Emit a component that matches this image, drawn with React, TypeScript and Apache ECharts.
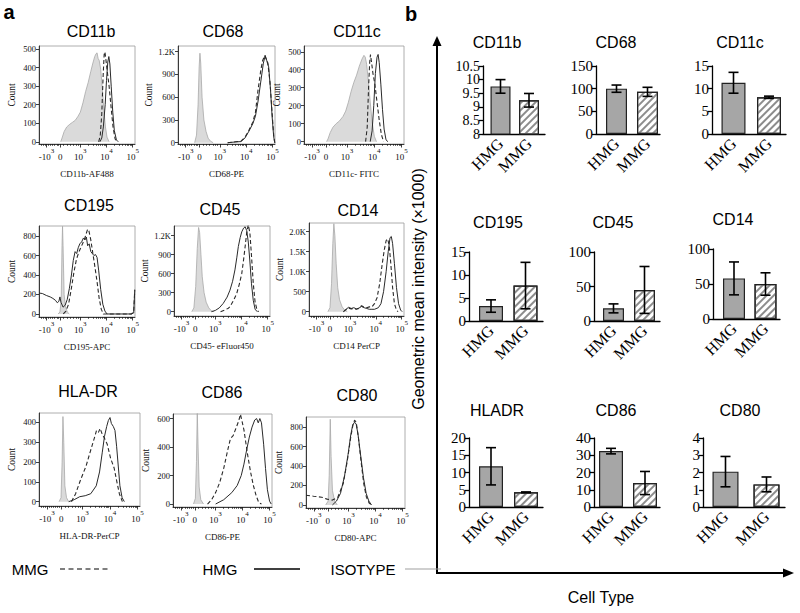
import React, { useEffect, useRef } from 'react';
import * as echarts from 'echarts';

const SERIF = '"Liberation Serif", "Times New Roman", serif';
const SANS = '"Liberation Sans", Arial, sans-serif';

// ---------------- Panel a : flow cytometry histograms ----------------
const histTitles = ['CD11b', 'CD68', 'CD11c', 'CD195', 'CD45', 'CD14', 'HLA-DR', 'CD86', 'CD80'];
const histAxisNames = ['CD11b-AF488', 'CD68-PE', 'CD11c- FITC', 'CD195-APC', 'CD45- eFluor450', 'CD14 PerCP', 'HLA-DR-PerCP', 'CD86-PE', 'CD80-APC'];

// biexponential display units (10^3 -> 3, 10^4 -> 4, 10^5 -> 5)
const xTickValues = [1.71, 2.23, 3, 4, 5];
const xTickLabels = ['-10^3', '0', '10^3', '10^4', '10^5'];
const xMinorTickValues = [1.5, 1.58, 1.64, 1.78, 1.86, 1.94, 2.02, 2.1, 2.16, 2.36, 2.5, 2.62, 2.74, 2.84, 2.92,
  3.3, 3.48, 3.6, 3.7, 3.78, 3.85, 3.9, 3.95, 4.3, 4.48, 4.6, 4.7, 4.78, 4.85, 4.9, 4.95];

const histYTickValues = [
  [0, 100, 200, 300, 400, 500],
  [0, 300, 600, 900, 1200],
  [0, 100, 200, 300, 400, 500],
  [0, 200, 400, 600, 800],
  [0, 300, 600, 900, 1200],
  [0, 500, 1000, 1500, 2000],
  [0, 100, 200, 300, 400],
  [0, 200, 400, 600],
  [0, 200, 400, 600, 800],
];
const histYTickLabels = [
  ['0', '100', '200', '300', '400', '500'],
  ['0', '300', '600', '900', '1.2K'],
  ['0', '100', '200', '300', '400', '500'],
  ['0', '200', '400', '600', '800'],
  ['0', '300', '600', '900', '1.2K'],
  ['0', '500', '1.0K', '1.5K', '2.0K'],
  ['0', '100', '200', '300', '400'],
  ['0', '200', '400', '600'],
  ['0', '200', '400', '600', '800'],
];
const histYMin = [-12, -17, -13, -31, -68, -108, -22, -21, -31];
const histYMax = [517, 1275, 532, 903, 1353, 2218, 448, 632, 903];

// curves: [display unit, count]
const cd11bIso = [[2.25, 0], [2.3, 20], [2.38, 55], [2.48, 80], [2.6, 95], [2.7, 105], [2.8, 115], [2.9, 135], [3.0, 160], [3.1, 210], [3.2, 270], [3.3, 320], [3.4, 380], [3.48, 425], [3.55, 460], [3.6, 475], [3.64, 480], [3.68, 450], [3.72, 440], [3.78, 390], [3.84, 290], [3.9, 170], [3.96, 80], [4.02, 25], [4.1, 0]];
const cd11bHmg = [[3.75, 0], [3.82, 20], [3.88, 80], [3.95, 200], [4.0, 330], [4.05, 430], [4.09, 460], [4.13, 420], [4.18, 300], [4.24, 160], [4.3, 60], [4.38, 10], [4.45, 0]];
const cd11bMmg = [[3.7, 0], [3.76, 30], [3.82, 150], [3.87, 350], [3.91, 470], [3.94, 485], [3.98, 440], [4.03, 380], [4.1, 300], [4.18, 180], [4.25, 80], [4.33, 15], [4.4, 0]];

const cd68Iso = [[2.05, 0], [2.12, 100], [2.18, 500], [2.22, 1000], [2.25, 1180], [2.28, 1050], [2.33, 600], [2.4, 300], [2.48, 150], [2.56, 60], [2.65, 20], [2.75, 0]];
const cd68Hmg = [[3.3, 0], [3.6, 10], [3.8, 15], [3.95, 60], [4.1, 150], [4.25, 250], [4.35, 350], [4.45, 550], [4.55, 800], [4.65, 1050], [4.72, 1150], [4.78, 1080], [4.85, 1000], [4.92, 700], [4.98, 350], [5.04, 80], [5.08, 0]];
const cd68Mmg = [[3.3, 0], [3.6, 12], [3.8, 20], [3.95, 70], [4.1, 160], [4.25, 270], [4.35, 400], [4.45, 700], [4.55, 950], [4.62, 1080], [4.7, 1150], [4.76, 1100], [4.82, 1050], [4.9, 800], [4.98, 400], [5.04, 100], [5.08, 0]];

const cd11cIso = [[2.25, 0], [2.3, 15], [2.38, 50], [2.48, 80], [2.6, 100], [2.72, 115], [2.85, 140], [2.95, 170], [3.05, 220], [3.15, 280], [3.25, 330], [3.35, 370], [3.45, 420], [3.55, 460], [3.62, 480], [3.67, 470], [3.72, 430], [3.78, 340], [3.85, 220], [3.92, 110], [4.0, 30], [4.08, 0]];
const cd11cHmg = [[3.85, 0], [3.92, 60], [3.98, 200], [4.04, 380], [4.1, 470], [4.14, 485], [4.18, 440], [4.24, 320], [4.3, 180], [4.36, 70], [4.43, 10], [4.5, 0]];
const cd11cMmg = [[3.68, 0], [3.74, 80], [3.79, 300], [3.83, 440], [3.86, 485], [3.9, 440], [3.95, 380], [4.02, 320], [4.1, 220], [4.18, 120], [4.26, 40], [4.34, 0]];

const cd195Iso = [[2.15, 0], [2.22, 20], [2.27, 150], [2.3, 700], [2.32, 900], [2.34, 700], [2.38, 200], [2.43, 80], [2.5, 20], [2.58, 0]];
const cd195Hmg = [[1.42, 215], [1.55, 210], [1.7, 190], [1.85, 175], [1.95, 160], [2.05, 140], [2.12, 115], [2.18, 130], [2.22, 175], [2.26, 120], [2.34, 70], [2.42, 90], [2.5, 150], [2.58, 260], [2.66, 400], [2.73, 550], [2.8, 640], [2.86, 620], [2.92, 680], [2.98, 720], [3.05, 740], [3.12, 780], [3.18, 760], [3.23, 790], [3.28, 700], [3.34, 720], [3.4, 640], [3.46, 620], [3.52, 600], [3.58, 610], [3.64, 580], [3.7, 450], [3.78, 250], [3.86, 100], [3.94, 30], [4.02, 0], [4.95, 0], [5.04, 10], [5.08, 240]];
const cd195Mmg = [[2.35, 0], [2.45, 30], [2.55, 100], [2.65, 250], [2.75, 420], [2.85, 560], [2.95, 640], [3.05, 700], [3.15, 760], [3.22, 820], [3.28, 870], [3.33, 850], [3.4, 760], [3.48, 620], [3.56, 480], [3.64, 330], [3.72, 160], [3.8, 50], [3.88, 0], [4.95, 0], [5.04, 20], [5.08, 250]];

const cd45Iso = [[2.1, 0], [2.18, 60], [2.25, 400], [2.31, 1000], [2.36, 1330], [2.4, 1250], [2.45, 900], [2.5, 550], [2.57, 300], [2.65, 150], [2.75, 60], [2.85, 15], [2.95, 0]];
const cd45Hmg = [[2.85, 0], [3.0, 20], [3.15, 60], [3.3, 130], [3.45, 230], [3.56, 340], [3.66, 480], [3.75, 660], [3.82, 850], [3.88, 1030], [3.95, 1170], [4.01, 1260], [4.08, 1320], [4.14, 1340], [4.2, 1280], [4.26, 1100], [4.32, 800], [4.38, 450], [4.45, 180], [4.52, 40], [4.6, 0]];
const cd45Mmg = [[3.2, 0], [3.35, 25], [3.5, 55], [3.56, 80], [3.7, 180], [3.82, 290], [3.92, 440], [4.01, 600], [4.08, 820], [4.14, 1030], [4.2, 1250], [4.26, 1370], [4.32, 1250], [4.38, 900], [4.45, 450], [4.52, 150], [4.6, 20], [4.66, 0]];

const cd14Iso = [[2.15, 0], [2.23, 100], [2.29, 700], [2.34, 1700], [2.38, 2200], [2.42, 1900], [2.47, 1200], [2.53, 600], [2.6, 300], [2.7, 120], [2.8, 40], [2.9, 0]];
const cd14Hmg = [[2.75, 0], [2.85, 60], [2.95, 110], [3.05, 80], [3.15, 100], [3.25, 70], [3.35, 90], [3.45, 130], [3.55, 100], [3.65, 80], [3.75, 60], [3.85, 60], [3.95, 60], [4.1, 100], [4.2, 200], [4.3, 500], [4.4, 1000], [4.48, 1500], [4.55, 1850], [4.6, 1880], [4.65, 1700], [4.72, 1200], [4.8, 600], [4.88, 200], [4.96, 40], [5.02, 0]];
const cd14Mmg = [[2.75, 0], [2.85, 50], [2.95, 90], [3.05, 70], [3.15, 80], [3.25, 60], [3.35, 80], [3.45, 150], [3.55, 110], [3.65, 100], [3.75, 120], [3.85, 120], [3.95, 200], [4.05, 350], [4.15, 700], [4.25, 1200], [4.33, 1550], [4.4, 1780], [4.46, 1820], [4.52, 1650], [4.58, 1200], [4.65, 600], [4.72, 200], [4.8, 40], [4.86, 0]];

const hladrIso = [[2.15, 0], [2.22, 20], [2.26, 200], [2.29, 430], [2.32, 300], [2.36, 80], [2.42, 20], [2.5, 0]];
const hladrHmg = [[2.5, 0], [2.7, 10], [2.9, 25], [3.1, 30], [3.3, 40], [3.5, 80], [3.62, 150], [3.72, 250], [3.8, 330], [3.88, 380], [3.94, 410], [4.0, 425], [4.05, 395], [4.12, 380], [4.18, 360], [4.24, 280], [4.3, 180], [4.36, 80], [4.44, 20], [4.52, 0]];
const hladrMmg = [[2.6, 0], [2.75, 40], [2.93, 110], [3.13, 180], [3.32, 270], [3.45, 330], [3.51, 360], [3.58, 350], [3.64, 370], [3.72, 340], [3.8, 320], [3.9, 290], [4.02, 220], [4.15, 170], [4.25, 100], [4.34, 40], [4.45, 0]];

const cd86Iso = [[2.18, 0], [2.25, 40], [2.29, 300], [2.32, 650], [2.35, 400], [2.39, 120], [2.45, 30], [2.55, 0]];
const cd86Hmg = [[3.0, 0], [3.3, 30], [3.6, 80], [3.8, 130], [3.95, 200], [4.05, 280], [4.15, 380], [4.25, 470], [4.35, 540], [4.45, 590], [4.52, 600], [4.58, 570], [4.64, 600], [4.7, 570], [4.78, 420], [4.85, 250], [4.92, 100], [5.0, 20], [5.06, 0]];
const cd86Mmg = [[2.7, 0], [2.85, 30], [3.0, 80], [3.15, 150], [3.3, 250], [3.45, 380], [3.55, 460], [3.65, 480], [3.75, 530], [3.85, 580], [3.92, 630], [3.98, 580], [4.05, 520], [4.12, 430], [4.2, 330], [4.3, 220], [4.4, 130], [4.5, 60], [4.6, 10], [4.7, 0]];

const cd80Iso = [[2.15, 0], [2.24, 40], [2.28, 300], [2.32, 880], [2.35, 500], [2.4, 150], [2.48, 40], [2.58, 0]];
const cd80Hmg = [[2.4, 0], [2.55, 40], [2.7, 120], [2.85, 300], [2.98, 520], [3.08, 720], [3.15, 820], [3.22, 850], [3.28, 830], [3.35, 720], [3.45, 500], [3.55, 280], [3.65, 120], [3.75, 40], [3.85, 0]];
const cd80Mmg = [[1.42, 100], [1.7, 90], [2.0, 80], [2.2, 60], [2.4, 50], [2.6, 80], [2.8, 220], [2.95, 450], [3.08, 700], [3.16, 820], [3.22, 870], [3.28, 850], [3.36, 700], [3.46, 450], [3.56, 220], [3.66, 80], [3.76, 20], [3.86, 0]];

const histIso = [cd11bIso, cd68Iso, cd11cIso, cd195Iso, cd45Iso, cd14Iso, hladrIso, cd86Iso, cd80Iso];
const histHmg = [cd11bHmg, cd68Hmg, cd11cHmg, cd195Hmg, cd45Hmg, cd14Hmg, hladrHmg, cd86Hmg, cd80Hmg];
const histMmg = [cd11bMmg, cd68Mmg, cd11cMmg, cd195Mmg, cd45Mmg, cd14Mmg, hladrMmg, cd86Mmg, cd80Mmg];

// ---------------- Panel b : geometric mean intensity (x1000) ----------------
const barTitles = ['CD11b', 'CD68', 'CD11c', 'CD195', 'CD45', 'CD14', 'HLADR', 'CD86', 'CD80'];
const cellTypes = ['HMG', 'MMG'];
const hmgMean = [9.75, 100, 11.3, 3.25, 18.3, 58, 11.8, 32.4, 2.05];
const hmgErr = [0.25, 8, 2.3, 1.35, 6.5, 23.5, 5.4, 1.6, 0.88];
const mmgMean = [9.24, 93, 8.1, 7.7, 45, 50, 4.25, 13.9, 1.31];
const mmgErr = [0.25, 10, 0.25, 5.05, 34, 16, 0.12, 6.7, 0.43];
const barYMin = [8, 0, 0, 0, 0, 0, 0, 0, 0];
const barYMax = [10.5, 150, 15, 15, 100, 100, 20, 40, 4];
const barYTickValues = [
  [8, 8.5, 9, 9.5, 10, 10.5], [0, 50, 100, 150], [0, 5, 10, 15],
  [0, 5, 10, 15], [0, 50, 100], [0, 50, 100],
  [0, 5, 10, 15, 20], [0, 10, 20, 30, 40], [0, 1, 2, 3, 4],
];
const barYTickLabels = [
  ['8', '8.5', '9', '9.5', '10', '10.5'], ['0', '50', '100', '150'], ['0', '5', '10', '15'],
  ['0', '5', '10', '15'], ['0', '50', '100'], ['0', '50', '100'],
  ['0', '5', '10', '15', '20'], ['0', '10', '20', '30', '40'], ['0', '1', '2', '3', '4'],
];

// ---------------- layout (pixels) ----------------
const histBoxes = [
  [39, 46, 135, 144], [178, 46, 275, 144], [304, 46, 404, 144],
  [39, 226, 135, 317], [174, 226, 270, 316], [309, 223, 404, 316],
  [39, 413, 140, 506], [173, 414, 272, 507], [306, 417, 405, 508],
];
const histTitlePos = [[91, 31], [223, 31], [357, 31], [89, 205], [220, 209], [358, 210], [88, 391], [222, 392], [357, 395]];
// [axisX, endX, top, bottom, hmgCenter, mmgCenter, barWidth]
const barBoxes = [
  [483, 545, 66, 134, 500.5, 529, 20], [596, 660, 66, 134, 616.5, 647.5, 21], [712, 786, 66, 134, 733.5, 769, 24],
  [469, 543, 252, 321, 491, 525.5, 24], [594, 660, 252, 321, 613.5, 644.5, 21], [713, 780, 249, 319, 734, 765.5, 22],
  [469, 543, 438, 507, 491, 526, 24], [594, 660, 438, 507, 611, 645, 24], [703, 785, 438, 507, 725.5, 766.5, 26],
];
const barTitlePos = [[497, 42], [616, 42], [740, 42], [498, 222], [613, 222], [733, 219], [497, 410], [616, 410], [740, 410]];
const barTickFont = [14, 15, 15, 15, 15, 15, 15, 15, 15];

function expLabel(s: string) {
  const m = s.match(/^(-?10)\^(\d)$/);
  return m ? `{b|${m[1]}}{s|${m[2]}}` : `{b|${s}}`;
}

function buildOption() {
  const grid: any[] = [];
  const xAxis: any[] = [];
  const yAxis: any[] = [];
  const series: any[] = [];
  const graphic: any[] = [];
  const txt = (text: string, x: number, y: number, font: any, extra: any = {}) => ({
    type: 'text', x, y, silent: true, ...extra,
    style: { text, fill: '#000', align: 'center', verticalAlign: 'middle', textAlign: 'center', textVerticalAlign: 'middle', ...font },
  });

  // ---- histograms ----
  histBoxes.forEach((b, i) => {
    grid.push({ left: b[0], top: b[1], width: b[2] - b[0], height: b[3] - b[1], show: true, borderColor: '#9a9a9a', borderWidth: 0.8 });
    const xi = xAxis.length;
    xAxis.push({
      type: 'value', gridIndex: i, min: 1.42, max: 5.09, position: 'bottom',
      axisLine: { show: true, onZero: false, lineStyle: { color: '#111', width: 0.8 } },
      axisTick: { show: true, customValues: xTickValues, length: 3.5, lineStyle: { color: '#111', width: 0.8 } },
      axisLabel: {
        customValues: xTickValues, margin: 3, hideOverlap: false, showMinLabel: true, showMaxLabel: true,
        formatter: (v: number) => {
          const k = xTickValues.findIndex((t) => Math.abs(t - v) < 1e-6);
          return k >= 0 ? expLabel(xTickLabels[k]) : '';
        },
        rich: {
          b: { fontFamily: SERIF, fontSize: 9, color: '#111', verticalAlign: 'bottom', lineHeight: 14 },
          s: { fontFamily: SERIF, fontSize: 7, color: '#111', verticalAlign: 'top', lineHeight: 14 },
        },
      },
      splitLine: { show: false },
      name: histAxisNames[i], nameLocation: 'middle', nameGap: 25,
      nameTextStyle: { fontFamily: SERIF, fontSize: 9, color: '#111' },
    });
    xAxis.push({
      type: 'value', gridIndex: i, min: 1.42, max: 5.09, position: 'bottom',
      axisLine: { show: false, onZero: false },
      axisTick: { show: true, customValues: xMinorTickValues, length: 2, lineStyle: { color: '#111', width: 0.6 } },
      axisLabel: { show: false }, splitLine: { show: false },
    });
    const yi = yAxis.length;
    yAxis.push({
      type: 'value', gridIndex: i, min: histYMin[i], max: histYMax[i],
      axisLine: { show: true, onZero: false, lineStyle: { color: '#111', width: 0.8 } },
      axisTick: { show: true, customValues: histYTickValues[i], length: 3, lineStyle: { color: '#111', width: 0.8 } },
      axisLabel: {
        customValues: histYTickValues[i], margin: 3, fontFamily: SERIF, fontSize: 8.5, color: '#111',
        hideOverlap: false, showMinLabel: true, showMaxLabel: true,
        formatter: (v: number) => {
          const k = histYTickValues[i].indexOf(v);
          return k >= 0 ? histYTickLabels[i][k] : '';
        },
      },
      splitLine: { show: false },
      name: 'Count', nameLocation: 'middle', nameGap: 22, nameRotate: 90,
      nameTextStyle: { fontFamily: SERIF, fontSize: 9.5, color: '#111' },
    });
    const common = { type: 'line', xAxisIndex: xi, yAxisIndex: yi, showSymbol: false, symbol: 'none', clip: true, animation: false, silent: true };
    series.push({ ...common, name: 'ISOTYPE', data: histIso[i], lineStyle: { color: '#a8a8a8', width: 0.8 }, areaStyle: { color: '#dadada', opacity: 1 } });
    series.push({ ...common, name: 'MMG', data: histMmg[i], lineStyle: { color: '#2a2a2a', width: 1.1, type: [4, 2.5] } });
    series.push({ ...common, name: 'HMG', data: histHmg[i], lineStyle: { color: '#2a2a2a', width: 1 } });
    graphic.push(txt(histTitles[i], histTitlePos[i][0], histTitlePos[i][1], { fontFamily: SANS, fontSize: 16 }));
  });

  // ---- bar charts ----
  barBoxes.forEach((b, j) => {
    const gi = grid.length;
    const [ax, ex, top, bot, hc, mc, bw] = b;
    const d = mc - hc;
    grid.push({ left: ax, top, width: ex - ax, height: bot - top, show: false });
    const xi = xAxis.length;
    xAxis.push({
      type: 'value', gridIndex: gi, min: -(hc - ax) / d, max: 1 + (ex - mc) / d,
      axisLine: { show: true, onZero: false, lineStyle: { color: '#000', width: 1.3 } },
      axisTick: { show: false },
      axisLabel: {
        customValues: [0, 1], rotate: 45, margin: 7, fontFamily: SERIF, fontSize: 16, color: '#000',
        hideOverlap: false, showMinLabel: true, showMaxLabel: true,
        formatter: (v: number) => cellTypes[Math.round(v)] ?? '',
      },
      splitLine: { show: false },
    });
    const ticks = barYTickValues[j];
    const lbl = (v: number) => {
      const k = ticks.findIndex((t) => Math.abs(t - v) < 1e-9);
      return k >= 0 ? barYTickLabels[j][k] : '';
    };
    const labelBase = { margin: 3, fontFamily: SERIF, fontSize: barTickFont[j], color: '#000', hideOverlap: false, showMinLabel: true, showMaxLabel: true, formatter: lbl };
    const yi = yAxis.length;
    // main axis: line, ticks, labels at even tick positions
    yAxis.push({
      type: 'value', gridIndex: gi, min: barYMin[j], max: barYMax[j], position: 'left', offset: 0,
      axisLine: { show: true, onZero: false, lineStyle: { color: '#000', width: 1.3 } },
      axisTick: { show: true, customValues: ticks, length: 4, lineStyle: { color: '#000', width: 1.3 } },
      axisLabel: { ...labelBase, customValues: ticks.filter((_t, k) => k % 2 === 0) },
      splitLine: { show: false },
    });
    // companion axis at the same place: labels at odd tick positions
    yAxis.push({
      type: 'value', gridIndex: gi, min: barYMin[j], max: barYMax[j], position: 'left', offset: 0,
      axisLine: { show: false, onZero: false }, axisTick: { show: false },
      axisLabel: { ...labelBase, customValues: ticks.filter((_t, k) => k % 2 === 1) },
      splitLine: { show: false },
    });
    series.push({
      type: 'bar', xAxisIndex: xi, yAxisIndex: yi, barWidth: bw, clip: true, animation: false, silent: true,
      itemStyle: { borderColor: '#222', borderWidth: 1.2 },
      data: [
        { value: [0, hmgMean[j]], itemStyle: { color: '#a6a6a6' } },
        {
          value: [1, mmgMean[j]],
          itemStyle: {
            color: '#ffffff',
            decal: { symbol: 'rect', symbolSize: 1, dashArrayX: [1, 0], dashArrayY: [1.2, 2.6], rotation: -Math.PI / 4, color: '#8c8c8c' },
          },
        },
      ],
    });
    series.push({
      type: 'custom', xAxisIndex: xi, yAxisIndex: yi, animation: false, silent: true, z: 5,
      data: [
        [0, hmgMean[j] - hmgErr[j], hmgMean[j] + hmgErr[j]],
        [1, mmgMean[j] - mmgErr[j], mmgMean[j] + mmgErr[j]],
      ],
      encode: { x: 0, y: [1, 2] },
      renderItem: (_p: any, api: any) => {
        const x = api.value(0);
        const lo = api.coord([x, api.value(1)]);
        const hi = api.coord([x, api.value(2)]);
        const hw = 5;
        const st = { stroke: '#000', lineWidth: 1.6 };
        return {
          type: 'group',
          children: [
            { type: 'line', shape: { x1: lo[0], y1: lo[1], x2: hi[0], y2: hi[1] }, style: st },
            { type: 'line', shape: { x1: hi[0] - hw, y1: hi[1], x2: hi[0] + hw, y2: hi[1] }, style: st },
            { type: 'line', shape: { x1: lo[0] - hw, y1: lo[1], x2: lo[0] + hw, y2: lo[1] }, style: st },
          ],
        };
      },
    });
    graphic.push(txt(barTitles[j], barTitlePos[j][0], barTitlePos[j][1], { fontFamily: SANS, fontSize: 16 }));
  });

  // ---- panel letters, axes arrows, labels, legend ----
  graphic.push(txt('a', 9, 12, { fontFamily: SANS, fontSize: 20, fontWeight: 'bold' }));
  graphic.push(txt('b', 411, 14, { fontFamily: SANS, fontSize: 20, fontWeight: 'bold' }));
  graphic.push({ type: 'line', silent: true, shape: { x1: 437, y1: 573, x2: 437, y2: 44 }, style: { stroke: '#000', lineWidth: 2 } });
  graphic.push({ type: 'polygon', silent: true, shape: { points: [[437, 36], [432.5, 46], [441.5, 46]] }, style: { fill: '#000' } });
  graphic.push({ type: 'line', silent: true, shape: { x1: 436, y1: 573, x2: 785, y2: 573 }, style: { stroke: '#000', lineWidth: 2 } });
  graphic.push({ type: 'polygon', silent: true, shape: { points: [[794, 573], [783, 568.5], [783, 577.5]] }, style: { fill: '#000' } });
  graphic.push(txt('Geometric mean intensity (\u00d71000)', 418, 289, { fontFamily: SANS, fontSize: 16 }, { rotation: Math.PI / 2 }));
  graphic.push(txt('Cell Type', 601, 597, { fontFamily: SANS, fontSize: 16 }));

  graphic.push(txt('MMG', 30, 569, { fontFamily: SANS, fontSize: 15 }));
  graphic.push({ type: 'line', silent: true, shape: { x1: 60, y1: 569, x2: 111, y2: 569 }, style: { stroke: '#000', lineWidth: 1.2, lineDash: [5, 3.5] } });
  graphic.push(txt('HMG', 220, 569, { fontFamily: SANS, fontSize: 15 }));
  graphic.push({ type: 'line', silent: true, shape: { x1: 254, y1: 569, x2: 300, y2: 569 }, style: { stroke: '#000', lineWidth: 1.3 } });
  graphic.push(txt('ISOTYPE', 363, 569, { fontFamily: SANS, fontSize: 15 }));
  graphic.push({ type: 'line', silent: true, shape: { x1: 405, y1: 569, x2: 441, y2: 569 }, style: { stroke: '#a0a0a0', lineWidth: 1.2 } });

  return { animation: false, backgroundColor: '#fff', grid, xAxis, yAxis, series, graphic };
}

export default function App() {
  const ref = useRef<HTMLDivElement>(null);
  useEffect(() => {
    if (!ref.current) return;
    const chart = echarts.init(ref.current, null, { renderer: 'svg' });
    chart.setOption(buildOption() as any);
    return () => chart.dispose();
  }, []);
  return <div ref={ref} style={{ position: 'absolute', left: 0, top: 0, width: 800, height: 613, background: '#fff' }} />;
}
